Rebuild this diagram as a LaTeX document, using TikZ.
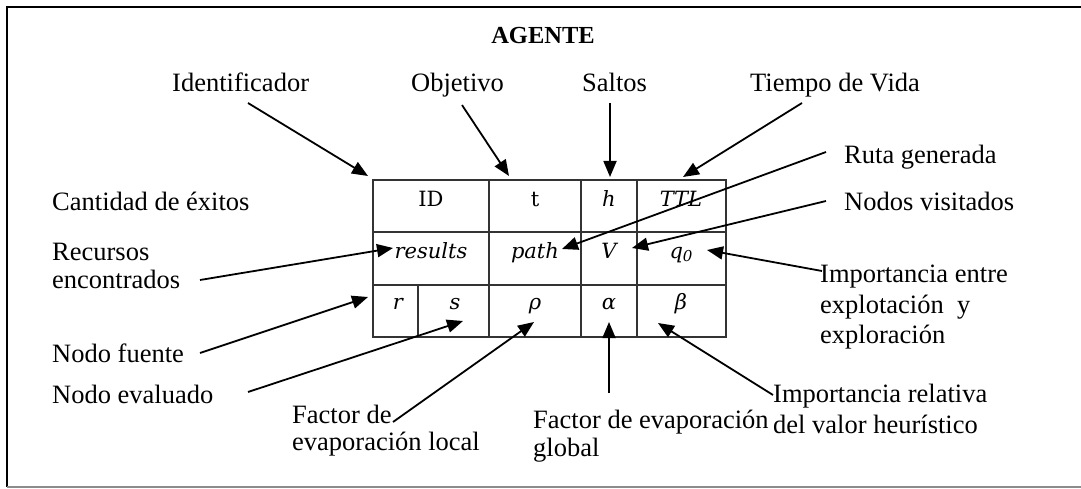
\documentclass[tikz,border=0pt]{standalone}
\usepackage{fontspec}
\setmainfont{Liberation Serif}
\newfontfamily\cellfont{DejaVu Serif}
\usetikzlibrary{arrows.meta}
\begin{document}
\begin{tikzpicture}[x=1pt,y=-1pt,
  lbl/.style={anchor=base west, inner sep=0pt, font=\fontsize{26.5}{30}\selectfont},
  cell/.style={anchor=base, inner sep=0pt, font=\cellfont\fontsize{21}{24}\selectfont},
  icell/.style={cell, font=\cellfont\itshape\fontsize{21}{24}\selectfont},
  conn/.style={line width=1.8pt, -{Triangle[length=16pt,width=13pt]}},
  gridline/.style={line width=1.6pt, draw=black!80}]
\useasboundingbox (0,0) rectangle (1081,489);
% frame
\draw[line width=2pt] (1081,7) -- (7,7) -- (7,487);
\draw[line width=2pt, draw=black!45] (7,487) -- (1081,487);
% title
\node[anchor=base, inner sep=0pt, font=\bfseries\fontsize{24.5}{28}\selectfont] (title) at (543,44) {AGENTE};
% table grid
\draw[gridline] (373,180) rectangle (726,337);
\draw[gridline] (373,232) -- (726,232);
\draw[gridline] (373,285) -- (726,285);
\draw[gridline] (489,180) -- (489,337);
\draw[gridline] (581,180) -- (581,337);
\draw[gridline] (637,180) -- (637,337);
\draw[gridline] (418,285) -- (418,337);
% cell contents
\node[cell]  (cID)  at (431,207) {ID};
\node[cell]  (ct)   at (535,207) {t};
\node[icell] (ch)   at (609,207) {h};
\node[icell] (cTTL) at (681,207) {TTL};
\node[icell] (cres) at (431,258) {results};
\node[icell] (cpath) at (535,258) {path};
\node[icell] (cV)   at (609,258) {V};
\node[icell] (cq)   at (681,258) {q\raisebox{-3pt}{\fontsize{15}{15}\selectfont 0}};
\node[icell] (cr)   at (398,309) {r};
\node[icell] (cs)   at (455,309) {s};
\node[icell] (crho) at (535,309) {ρ};
\node[icell] (calpha) at (609,309) {α};
\node[icell] (cbeta) at (681,309) {β};
% labels
\node[lbl] (lId)   at (172,92) {Identificador};
\node[lbl] (lObj)  at (411,92) {Objetivo};
\node[lbl] (lSal)  at (582,92) {Saltos};
\node[lbl] (lTie)  at (750,92) {Tiempo de Vida};
\node[lbl] (lRuta) at (844,164) {Ruta generada};
\node[lbl] (lNv)   at (844,211) {Nodos visitados};
\node[lbl] (lCant) at (52,211) {Cantidad de éxitos};
\node[lbl] (lRec1) at (52,260) {Recursos};
\node[lbl] (lRec2) at (52,288) {encontrados};
\node[lbl] (lNf)   at (52,362) {Nodo fuente};
\node[lbl] (lNe)   at (52,403) {Nodo evaluado};
\node[lbl] (lFl1)  at (292,423) {Factor de};
\node[lbl] (lFl2)  at (292,450) {evaporación local};
\node[lbl] (lFg1)  at (533,428) {Factor de evaporación};
\node[lbl] (lFg2)  at (533,456) {global};
\node[lbl] (lIr1)  at (773,402) {Importancia relativa};
\node[lbl] (lIr2)  at (773,433) {del valor heurístico};
\node[lbl] (lIe1)  at (820,282) {Importancia entre};
\node[lbl] (lIe2)  at (820,313) {explotación\ \ y};
\node[lbl] (lIe3)  at (820,343) {exploración};
% connector ends
\coordinate (sId)  at (248,103); \coordinate (tId)  at (368,176);
\coordinate (sObj) at (462,105); \coordinate (tObj) at (509,176);
\coordinate (sSal) at (610,103); \coordinate (tSal) at (610,177);
\coordinate (sTie) at (802,103); \coordinate (tTie) at (683,177);
\coordinate (sRuta) at (826,152); \coordinate (tRuta) at (562,249);
\coordinate (sNv)  at (826,201); \coordinate (tNv)  at (632,248);
\coordinate (sIe)  at (822,271); \coordinate (tIe)  at (707,250);
\coordinate (sIr)  at (773,395); \coordinate (tIr)  at (658,323);
\coordinate (sFg)  at (609,393); \coordinate (tFg)  at (609,322);
\coordinate (sFl)  at (393,422); \coordinate (tFl)  at (534,322);
\coordinate (sNe)  at (248,392); \coordinate (tNe)  at (463,321);
\coordinate (sNf)  at (200,353); \coordinate (tNf)  at (368,297);
\coordinate (sRec) at (200,280); \coordinate (tRec) at (393,248);
\draw[conn] (sId) -- (tId);
\draw[conn] (sObj) -- (tObj);
\draw[conn] (sSal) -- (tSal);
\draw[conn] (sTie) -- (tTie);
\draw[conn] (sRuta) -- (tRuta);
\draw[conn] (sNv) -- (tNv);
\draw[conn] (sIe) -- (tIe);
\draw[conn] (sIr) -- (tIr);
\draw[conn] (sFg) -- (tFg);
\draw[conn] (sFl) -- (tFl);
\draw[conn] (sNe) -- (tNe);
\draw[conn] (sNf) -- (tNf);
\draw[conn] (sRec) -- (tRec);
\end{tikzpicture}
\end{document}
